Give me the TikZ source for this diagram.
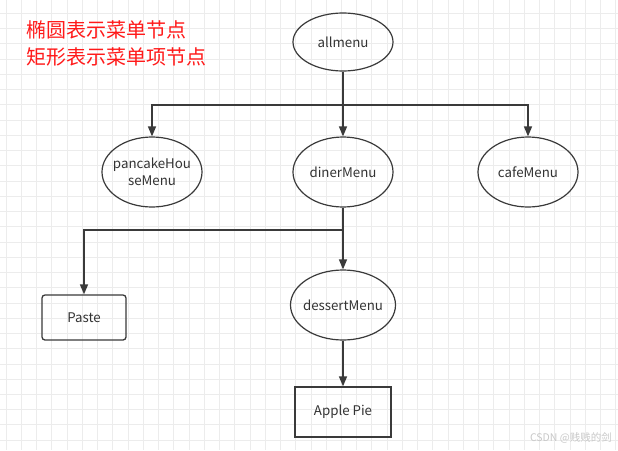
\documentclass[tikz,border=0pt]{standalone}
\usepackage{fontspec}
\setmainfont{Noto Sans CJK SC}
\usetikzlibrary{shapes.geometric,arrows.meta}
\definecolor{gridc}{HTML}{ECECEC}
\definecolor{linec}{HTML}{3A3A3A}
\definecolor{redt}{HTML}{FF1A1A}
\definecolor{wmark}{HTML}{C8C8C8}
\begin{document}
\begin{tikzpicture}[x=1pt,y=-1pt,
  menunode/.style={ellipse,draw=linec,line width=1.2pt,inner xsep=-14pt,inner ysep=-10pt,minimum width=100pt,minimum height=70pt,align=center,font=\fontsize{13.3}{17}\selectfont,text=black!80},
  itemnode/.style={rectangle,draw=linec,line width=1.3pt,inner sep=0pt,align=center,font=\fontsize{13.3}{17}\selectfont,text=black!80},
  conn/.style={draw=linec,line width=1.4pt},
  arr/.style={conn,-{Triangle[length=10pt,width=8pt]}},
  legend/.style={anchor=west,text=redt,font=\fontsize{20}{22}\selectfont,inner sep=0pt}]
\useasboundingbox (0,0) rectangle (618,450);
\fill[white] (0,0) rectangle (618,450);
% grid
\foreach \i in {0,...,40} {\draw[gridc,line width=1pt] ({6.2+15.24*\i},0) -- ({6.2+15.24*\i},450);}
\foreach \j in {0,...,29} {\draw[gridc,line width=1pt] (0,{13.5+15.24*\j}) -- (618,{13.5+15.24*\j});}
% legend
\node[legend] (leg1) at (26,30) {椭圆表示菜单节点};
\node[legend] (leg2) at (26,57) {矩形表示菜单项节点};
% nodes
\node[menunode,minimum height=58pt] (allmenu) at (343,42) {allmenu};
\node[menunode] (pancake) at (152,172) {pancakeHou\\seMenu};
\node[menunode] (diner) at (343,172) {dinerMenu};
\node[menunode] (cafe) at (528,172) {cafeMenu};
\node[menunode,minimum width=105pt] (dessert) at (343,305) {dessertMenu};
\node[itemnode,rounded corners=3pt,minimum width=84pt,minimum height=45pt] (paste) at (84,317.5) {Paste};
\node[itemnode,minimum width=96pt,minimum height=50pt] (apple) at (343,412) {Apple Pie};
% connectors
\coordinate (j1) at (343,105);
\coordinate (j2) at (343,230);
\draw[arr] (allmenu) -- (diner);
\draw[arr] (j1) -| (pancake);
\draw[arr] (j1) -| (cafe);
\draw[arr] (diner) -- (dessert);
\draw[arr] (j2) -| (paste);
\draw[arr] (dessert) -- (apple);
% watermark
\node[anchor=east,text=wmark,font=\fontsize{10.5}{12}\selectfont,inner sep=0pt] (wm) at (612,438) {CSDN @贱贱的剑};
\end{tikzpicture}
\end{document}
